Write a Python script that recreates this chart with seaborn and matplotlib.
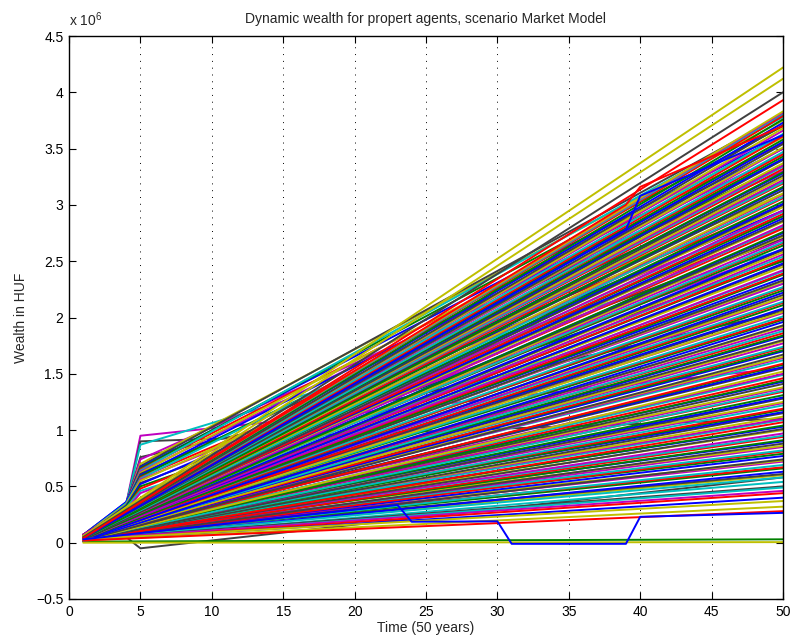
import matplotlib
matplotlib.use("Agg")
import matplotlib.pyplot as plt
from matplotlib.ticker import FuncFormatter, MultipleLocator
import pandas as pd
import seaborn as sns

# MATLAB default colour order (b, g, r, c, m, y, k)
matlab_colors = ["#0000ff", "#008000", "#ff0000", "#00bfbf", "#bf00bf", "#bfbf00", "#404040"]
B, G, R, C, M, Y, K = matlab_colors

# wealth values are in millions of HUF
# main fan: straight lines from year 1 to year 50
fan_end = [
    0.60, 0.61, 0.63, 0.66, 0.67, 0.69, 0.72, 0.73, 0.74, 0.77,
    0.79, 0.81, 0.82, 0.85, 0.86, 0.88, 0.90, 0.91, 0.94, 0.95,
    0.97, 1.00, 1.01, 1.03, 1.04, 1.07, 1.09, 1.10, 1.12, 1.15,
    1.16, 1.18, 1.19, 1.22, 1.24, 1.25, 1.28, 1.29, 1.31, 1.34,
    1.35, 1.37, 1.38, 1.41, 1.43, 1.44, 1.46, 1.49, 1.50, 1.52,
    1.55, 1.56, 1.58, 1.59, 1.62, 1.64, 1.65, 1.67, 1.70, 1.71,
    1.73, 1.74, 1.77, 1.79, 1.80, 1.83, 1.84, 1.86, 1.88, 1.90,
    1.92, 1.93, 1.96, 1.98, 1.99, 2.01, 2.04, 2.05, 2.07, 2.08,
    2.11, 2.13, 2.14, 2.17, 2.18, 2.20, 2.22, 2.24, 2.26, 2.27,
    2.30, 2.32, 2.33, 2.35, 2.38, 2.39, 2.41, 2.42, 2.45, 2.47,
    2.48, 2.51, 2.52, 2.54, 2.56, 2.58, 2.60, 2.61, 2.64, 2.66,
    2.67, 2.69, 2.72, 2.73, 2.75, 2.76, 2.79, 2.81, 2.82, 2.85,
    2.86, 2.88, 2.90, 2.92, 2.94, 2.95, 2.98, 3.00, 3.01, 3.03,
    3.06, 3.07, 3.09, 3.10, 3.13, 3.15, 3.16, 3.19, 3.20, 3.22,
    3.24, 3.26, 3.28, 3.29, 3.32, 3.34, 3.35, 3.37, 3.40, 3.41,
    3.43, 3.45, 3.47, 3.50, 3.51, 3.54, 3.56, 3.58, 3.61, 3.63,
    3.66, 3.68, 3.71, 3.73, 3.76, 3.79, 3.81, 3.82, 3.83,
]
fan_start = [
    0.03, 0.05, 0.02, 0.04, 0.06, 0.03, 0.05, 0.07, 0.02, 0.04,
    0.06, 0.03, 0.05, 0.04, 0.07, 0.02, 0.06, 0.04, 0.03, 0.05,
    0.04, 0.06, 0.03, 0.07, 0.05, 0.02, 0.04, 0.06, 0.05, 0.03,
    0.07, 0.04, 0.06, 0.03, 0.05, 0.07, 0.02, 0.05, 0.04, 0.06,
    0.03, 0.05, 0.07, 0.04, 0.06, 0.03, 0.05, 0.04, 0.07, 0.02,
    0.05, 0.06, 0.04, 0.03, 0.07, 0.05, 0.06, 0.02, 0.04, 0.06,
    0.04, 0.07, 0.05, 0.03, 0.06, 0.04, 0.05, 0.07, 0.03, 0.05,
    0.06, 0.04, 0.02, 0.05, 0.07, 0.04, 0.06, 0.03, 0.05, 0.07,
    0.05, 0.03, 0.06, 0.04, 0.07, 0.05, 0.02, 0.06, 0.04, 0.05,
    0.07, 0.05, 0.04, 0.06, 0.03, 0.05, 0.07, 0.04, 0.06, 0.05,
    0.04, 0.06, 0.05, 0.07, 0.03, 0.06, 0.04, 0.05, 0.07, 0.06,
    0.05, 0.07, 0.04, 0.06, 0.05, 0.03, 0.07, 0.06, 0.04, 0.05,
    0.06, 0.05, 0.07, 0.04, 0.06, 0.05, 0.07, 0.03, 0.06, 0.05,
    0.07, 0.04, 0.06, 0.05, 0.07, 0.06, 0.04, 0.05, 0.07, 0.06,
    0.05, 0.06, 0.07, 0.04, 0.06, 0.05, 0.07, 0.06, 0.05, 0.07,
    0.06, 0.07, 0.05, 0.06, 0.07, 0.04, 0.06, 0.07, 0.05, 0.06,
    0.07, 0.06, 0.05, 0.07, 0.06, 0.07, 0.06, 0.07, 0.06,
]

# agents with a jump in year 5 (values at years 1, 4, 5, 50)
jump_years = [1, 4, 5, 50]
jump_y1 = [0.06, 0.05, 0.06, 0.05, 0.05, 0.07, 0.06, 0.07, 0.05, 0.06, 0.06, 0.05, 0.07,
           0.05, 0.07, 0.06, 0.05, 0.06, 0.05, 0.06, 0.04, 0.05, 0.05, 0.04, 0.04, 0.04]
jump_y4 = [0.34, 0.33, 0.34, 0.33, 0.32, 0.35, 0.34, 0.36, 0.33, 0.35, 0.34, 0.32, 0.35,
           0.33, 0.36, 0.34, 0.32, 0.35, 0.33, 0.34, 0.31, 0.33, 0.32, 0.30, 0.31, 0.29]
jump_y5 = [0.95, 0.90, 0.87, 0.76, 0.74, 0.70, 0.68, 0.67, 0.66, 0.65, 0.64, 0.63, 0.62,
           0.61, 0.60, 0.59, 0.58, 0.57, 0.56, 0.55, 0.53, 0.52, 0.50, 0.48, 0.46, 0.44]
jump_y50 = [1.55, 1.10, 2.60, 2.05, 3.30, 3.75, 3.80, 3.62, 3.70, 3.55, 3.78, 3.45, 3.60,
            3.20, 3.50, 3.35, 3.00, 3.40, 2.90, 3.10, 2.70, 2.95, 2.50, 2.80, 2.30, 2.60]
jump_first_colors = [M, K, C, K]

# richest agents (straight lines)
top_start = [0.06, 0.05, 0.05, 0.04]
top_end = [4.22, 4.12, 4.00, 3.93]
top_colors = [Y, Y, K, R]

# poorest agents above zero (straight lines)
low_start = [0.03, 0.02, 0.03, 0.02, 0.03, 0.02, 0.02, 0.03, 0.02, 0.02]
low_end = [0.58, 0.54, 0.50, 0.49, 0.46, 0.44, 0.40, 0.37, 0.32, 0.28]
low_colors = [C, C, K, C, M, R, B, Y, Y, R]

# agents staying near zero
flat_start = [0.01, 0.00]
flat_end = [0.03, 0.005]
flat_colors = [G, Y]

# agent dipping below zero in year 5
dip_years = [1, 4, 5, 50]
dip_values = [0.02, 0.05, -0.05, 0.58]

# agents with a jump in year 40
late_years = [1, 39, 40, 50]
late_values = [[0.04, 2.78, 3.08, 3.62], [0.05, 3.00, 3.16, 3.70]]
late_colors = [B, R]

# agent losing wealth twice
drop_years = [1, 23, 24, 30, 31, 39, 40, 50]
drop_values = [0.03, 0.335, 0.186, 0.19, -0.01, -0.01, 0.23, 0.265]

rows = []
palette = {}


def add_agent(years, values, color):
    name = "agent%03d" % len(palette)
    palette[name] = color
    for t, v in zip(years, values):
        rows.append((t, v * 1e6, name))


k = 0
for i, vals in enumerate(zip(jump_y1, jump_y4, jump_y5, jump_y50)):
    col = jump_first_colors[i] if i < len(jump_first_colors) else matlab_colors[k % 7]
    k += 1
    add_agent(jump_years, vals, col)
add_agent(dip_years, dip_values, K)
for s, e, col in zip(flat_start, flat_end, flat_colors):
    add_agent([1, 50], [s, e], col)
for s, e in zip(fan_start, fan_end):
    add_agent([1, 50], [s, e], matlab_colors[k % 7])
    k += 1
for vals, col in zip(late_values, late_colors):
    add_agent(late_years, vals, col)
for s, e, col in zip(low_start, low_end, low_colors):
    add_agent([1, 50], [s, e], col)
for s, e, col in zip(top_start, top_end, top_colors):
    add_agent([1, 50], [s, e], col)
add_agent(drop_years, drop_values, B)

data = pd.DataFrame(rows, columns=["time", "wealth", "agent"])

sns.set_style("ticks")
plt.rcParams["font.family"] = ["Liberation Sans", "DejaVu Sans"]
plt.rcParams["mathtext.default"] = "regular"
plt.rcParams["axes.edgecolor"] = "black"

fig = plt.figure(figsize=(7.94, 6.43), dpi=100)
ax = fig.add_axes([69 / 794, 1 - 599 / 643, (783 - 69) / 794, (599 - 36) / 643])

sns.lineplot(
    data=data, x="time", y="wealth", hue="agent", palette=palette,
    estimator=None, sort=False, legend=False, linewidth=1.4, ax=ax,
)

ax.set_xlim(0, 50)
ax.set_ylim(-0.5e6, 4.5e6)
ax.xaxis.set_major_locator(MultipleLocator(5))
ax.yaxis.set_major_locator(MultipleLocator(0.5e6))
ax.yaxis.set_major_formatter(
    FuncFormatter(lambda v, p: ("%g" % round(v / 1e6, 2)).replace("-", "\u2212"))
)
ax.grid(axis="x", linestyle=(0, (1, 6)), color="black", linewidth=0.7)
ax.set_axisbelow(True)
ax.tick_params(direction="in", top=True, right=True, length=5, width=0.8,
               colors="black", labelsize=10, pad=4)
for sp in ax.spines.values():
    sp.set_linewidth(1.0)
    sp.set_color("black")

ax.set_title("Dynamic wealth for propert agents, scenario Market Model", fontsize=10, pad=9)
ax.set_xlabel("Time (50 years)", fontsize=10, labelpad=2)
ax.set_ylabel("Wealth in HUF", fontsize=10, labelpad=6)
ax.text(0.0, 1.012, "x 10$^{6}$", transform=ax.transAxes, ha="left", va="bottom", fontsize=10)

fig.savefig("out.png", dpi=100)
